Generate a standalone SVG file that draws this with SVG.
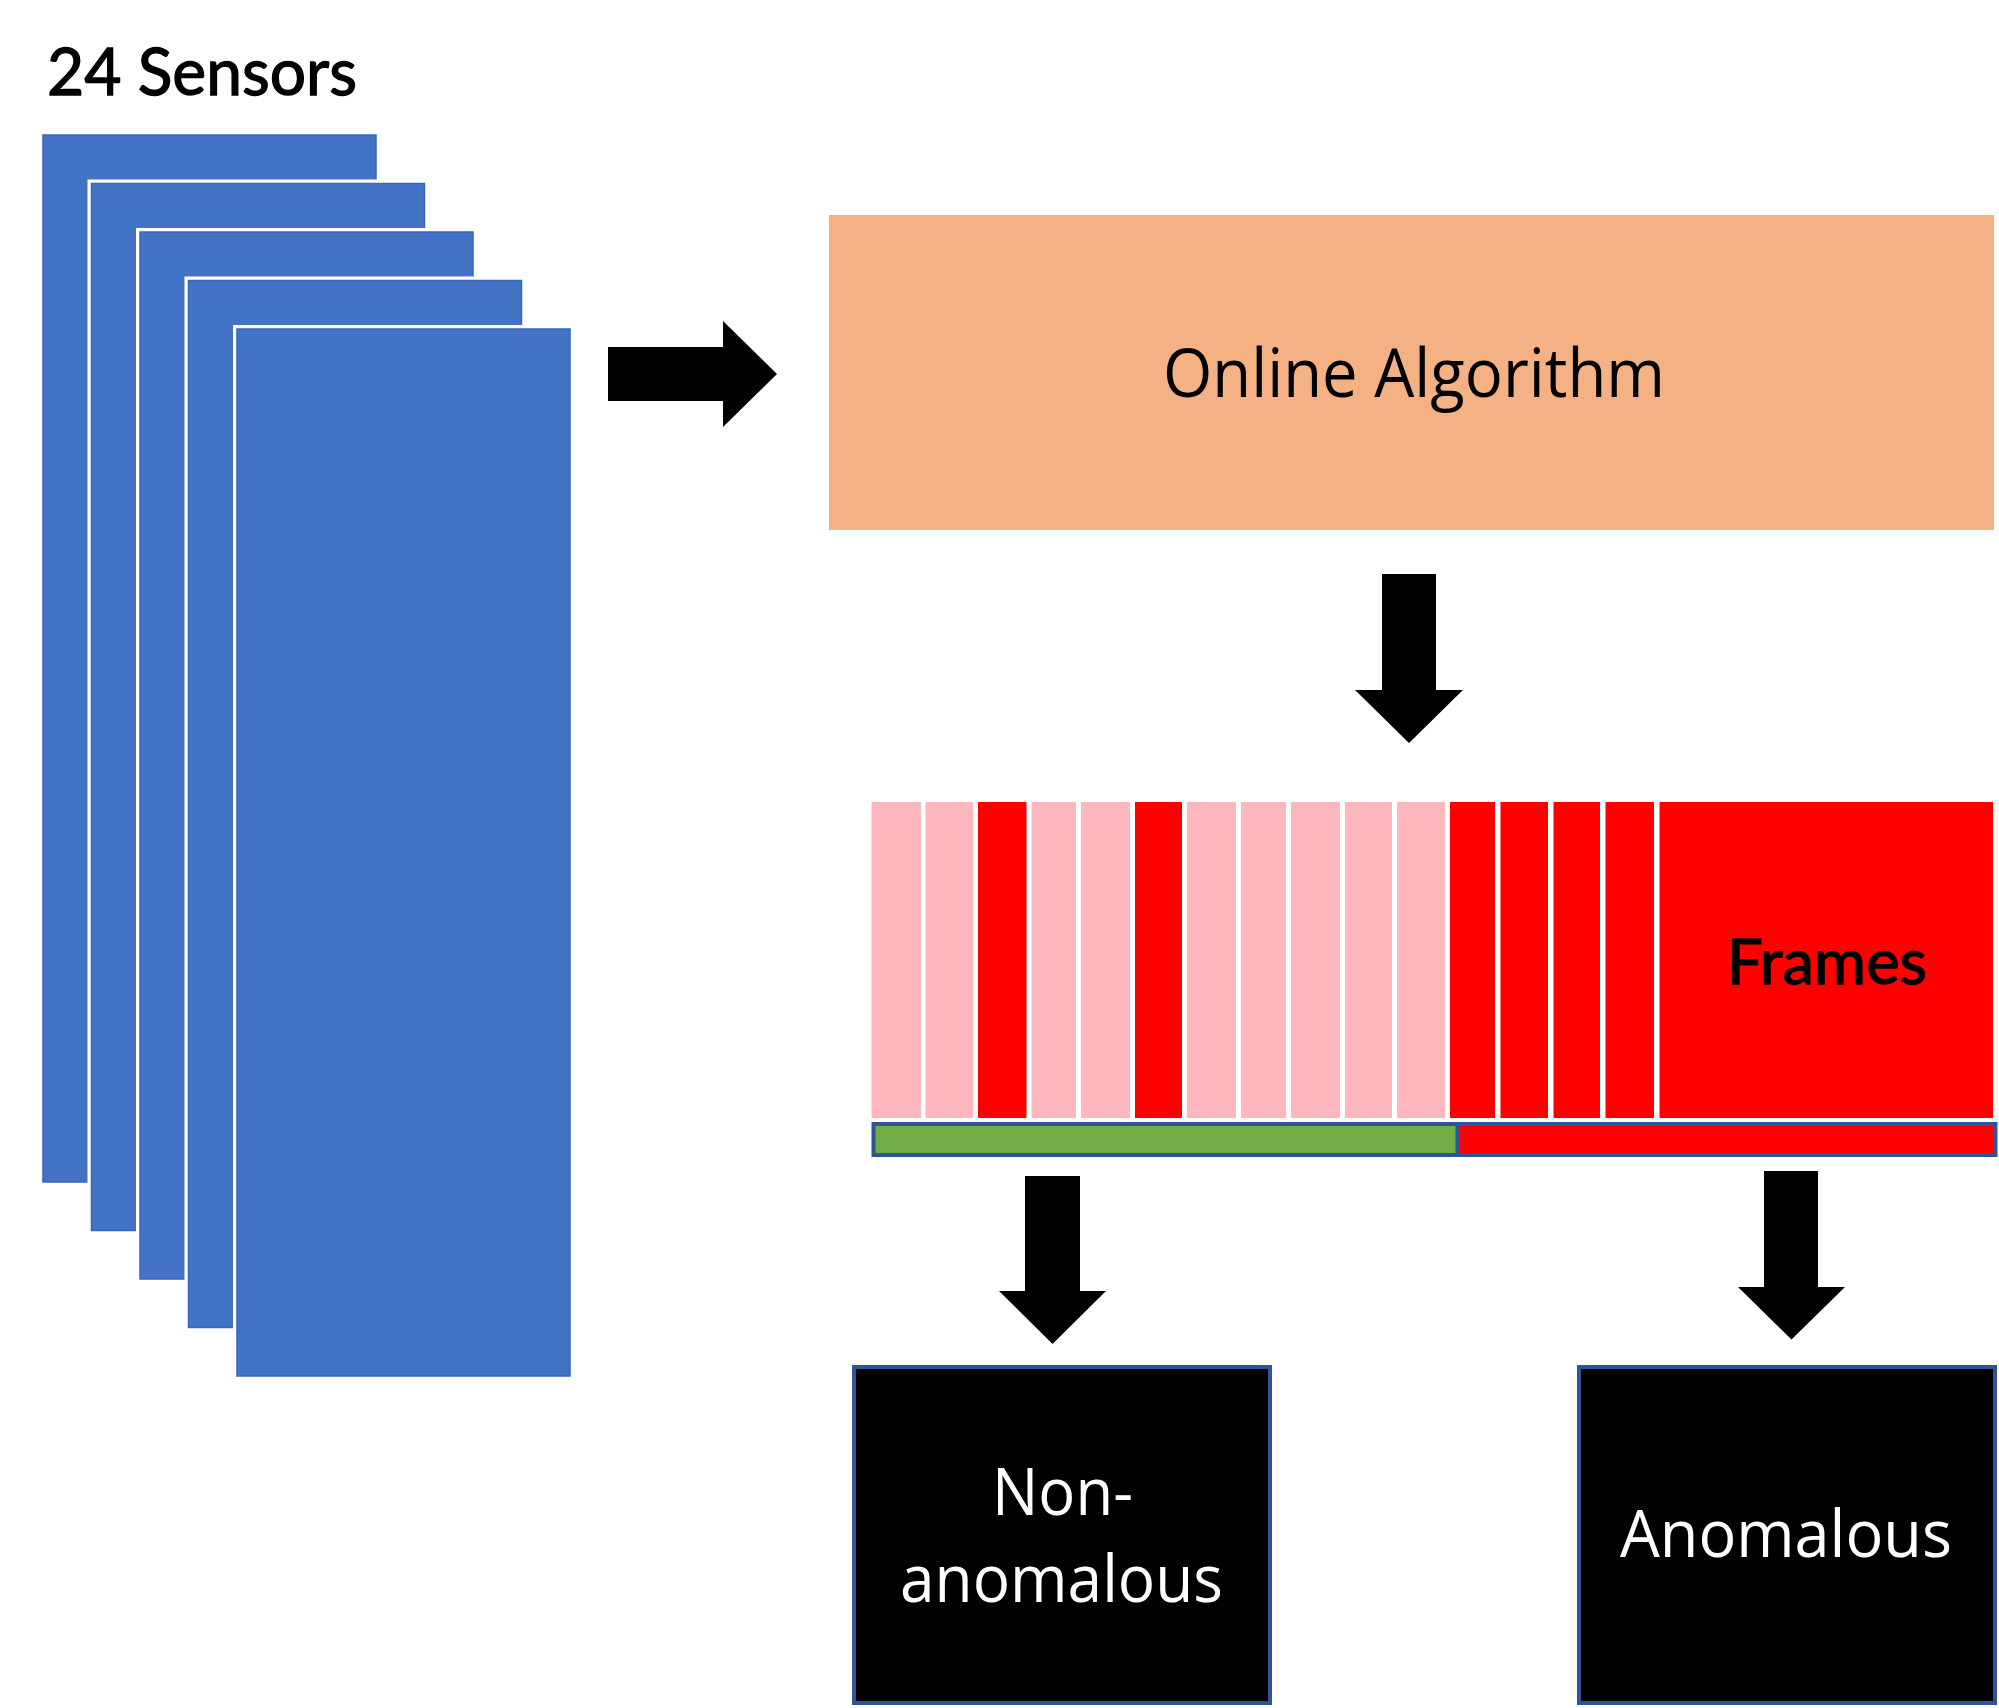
<svg xmlns="http://www.w3.org/2000/svg" width="1999" height="1708" viewBox="0 0 1999 1708">
<style>
.halo{fill:#FFFFFF}
.sens{fill:#4472C4;stroke:#3566C0;stroke-width:1.5}
.pink{fill:#FFB7BE}
.red{fill:#FF0000}
.arrow{fill:#000000}
.geo{font-family:"Lato","Liberation Sans",sans-serif;fill:#000000;stroke:#000000;stroke-width:1.3}
.cal{font-family:"Open Sans","Noto Sans",sans-serif}
.out{fill:#000000;stroke:#2F5597;stroke-width:4}
</style>
<rect x="0" y="0" width="1999" height="1708" fill="#FFFFFF"/>
<g id="title">
<text class="geo" x="47" y="95" font-size="66" textLength="310" lengthAdjust="spacingAndGlyphs">24 Sensors</text>
</g>
<g id="sensors">
<rect class="sens" x="43" y="135" width="333" height="1047"/>
<rect class="halo" x="87.5" y="179.5" width="341" height="1055"/>
<rect class="sens" x="91.5" y="183.5" width="333" height="1047"/>
<rect class="halo" x="136" y="228" width="341" height="1055"/>
<rect class="sens" x="140" y="232" width="333" height="1047"/>
<rect class="halo" x="184.5" y="276.5" width="341" height="1055"/>
<rect class="sens" x="188.5" y="280.5" width="333" height="1047"/>
<rect class="halo" x="233" y="325" width="341" height="1055"/>
<rect class="sens" x="237" y="329" width="333" height="1047"/>
</g>
<g id="online-algorithm">
<rect x="829" y="215" width="1165" height="315" fill="#F4B183"/>
<text class="cal" x="1163" y="397" font-size="67" fill="#000000" textLength="502" lengthAdjust="spacingAndGlyphs">Online Algorithm</text>
</g>
<g id="frames">
<rect class="pink" x="871.5" y="802" width="49.5" height="316"/>
<rect class="pink" x="925.5" y="802" width="47.5" height="316"/>
<rect class="red" x="978" y="802" width="48.5" height="316"/>
<rect class="pink" x="1031.5" y="802" width="44.5" height="316"/>
<rect class="pink" x="1081" y="802" width="49" height="316"/>
<rect class="red" x="1135" y="802" width="47" height="316"/>
<rect class="pink" x="1187" y="802" width="49" height="316"/>
<rect class="pink" x="1241" y="802" width="45" height="316"/>
<rect class="pink" x="1291" y="802" width="49" height="316"/>
<rect class="pink" x="1345" y="802" width="47" height="316"/>
<rect class="pink" x="1397" y="802" width="48" height="316"/>
<rect class="red" x="1450" y="802" width="45" height="316"/>
<rect class="red" x="1500.5" y="802" width="47.5" height="316"/>
<rect class="red" x="1553.5" y="802" width="46.5" height="316"/>
<rect class="red" x="1605.5" y="802" width="48.5" height="316"/>
<rect class="red" x="1659.5" y="802" width="333.5" height="316"/>
<text class="geo" x="1727" y="984" font-size="62" textLength="200" lengthAdjust="spacingAndGlyphs">Frames</text>
</g>
<g id="label-bar">
<rect x="873.5" y="1124" width="1122" height="31" fill="#FF0000" stroke="#2F5597" stroke-width="4"/>
<rect x="875.5" y="1126" width="581" height="27" fill="#70AD47"/>
<line x1="1457.5" y1="1124" x2="1457.5" y2="1155" stroke="#2F5597" stroke-width="4"/>
</g>
<g id="connectors">
<path class="arrow" d="M608,347 H723 V321 L777,374 L723,427 V401 H608 Z"/>
<path class="arrow" d="M1382,574 H1436 V690 H1463 L1409,743 L1355,690 H1382 Z"/>
<path class="arrow" d="M1025,1176 H1080 V1291 H1106 L1052.5,1344 L999,1291 H1025 Z"/>
<path class="arrow" d="M1764,1171 H1818 V1287 H1845 L1791.5,1339.5 L1738,1287 H1764 Z"/>
</g>
<g id="non-anomalous">
<rect class="out" x="854" y="1367" width="416" height="336"/>
<text class="cal" x="992" y="1515" font-size="66" fill="#FFFFFF" textLength="141" lengthAdjust="spacingAndGlyphs">Non-</text>
<text class="cal" x="900" y="1602" font-size="66" fill="#FFFFFF" textLength="323" lengthAdjust="spacingAndGlyphs">anomalous</text>
</g>
<g id="anomalous">
<rect class="out" x="1579" y="1367" width="416" height="336"/>
<text class="cal" x="1620" y="1557" font-size="66" fill="#FFFFFF" textLength="332" lengthAdjust="spacingAndGlyphs">Anomalous</text>
</g>
</svg>
